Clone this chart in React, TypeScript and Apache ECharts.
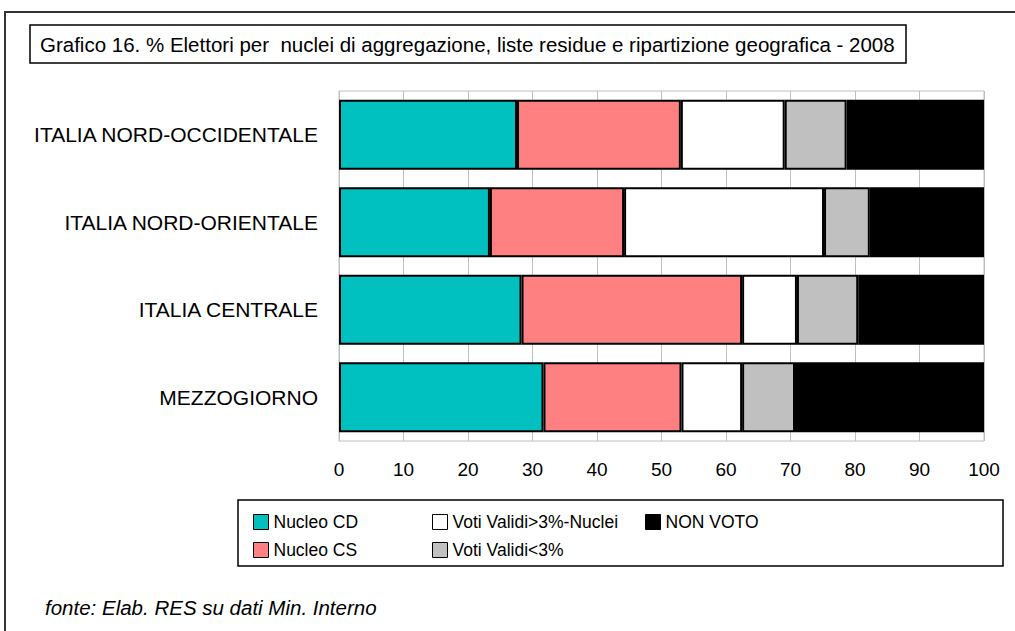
import React, { useEffect, useRef } from "react";
import * as echarts from "echarts";

const categories = [
  "ITALIA NORD-OCCIDENTALE",
  "ITALIA NORD-ORIENTALE",
  "ITALIA CENTRALE",
  "MEZZOGIORNO",
];
const nucleoCD = [27.6, 23.4, 28.3, 31.7];
const nucleoCS = [25.4, 20.8, 34.2, 21.4];
const votiSopra3 = [16.1, 31.0, 8.5, 9.4];
const votiSotto3 = [9.6, 7.1, 9.5, 8.2];
const nonVoto = [21.3, 17.7, 19.5, 29.3];
const xTicks = [0, 10, 20, 30, 40, 50, 60, 70, 80, 90, 100];

const title =
  "Grafico 16. % Elettori per  nuclei di aggregazione, liste residue e ripartizione geografica - 2008";
const source = "fonte: Elab. RES su dati Min. Interno";

const FONT = "'Liberation Sans', Arial, sans-serif";

export default function App() {
  const ref = useRef<HTMLDivElement>(null);
  useEffect(() => {
    if (!ref.current) return;
    const chart = echarts.init(ref.current, null, { renderer: "svg" });
    const seriesDefs = [
      { name: "Nucleo CD", data: nucleoCD, color: "#00C0C0" },
      { name: "Nucleo CS", data: nucleoCS, color: "#FF8080" },
      { name: "Voti Validi>3%-Nuclei", data: votiSopra3, color: "#FFFFFF" },
      { name: "Voti Validi<3%", data: votiSotto3, color: "#C0C0C0" },
      { name: "NON VOTO", data: nonVoto, color: "#000000" },
    ];
    const legendCommon = {
      orient: "vertical" as const,
      top: 508,
      padding: 5,
      itemWidth: 15,
      itemHeight: 15,
      itemGap: 10,
      icon: "rect",
      textStyle: { fontFamily: FONT, fontSize: 17.5, color: "#000" },
      itemStyle: { borderColor: "#000", borderWidth: 1 },
      selectedMode: false,
    };
    chart.setOption({
      animation: false,
      backgroundColor: "#fff",
      grid: {
        left: 339,
        right: 31,
        top: 91,
        bottom: 190,
        show: true,
        borderColor: "#c0c0c0",
        borderWidth: 1,
      },
      xAxis: {
        type: "value",
        min: 0,
        max: 100,
        interval: 10,
        axisLine: { show: false },
        axisTick: { show: false },
        splitLine: { show: true, lineStyle: { color: "#c0c0c0", width: 1 } },
        axisLabel: {
          fontFamily: FONT,
          fontSize: 19,
          color: "#000",
          margin: 19,
          formatter: (v: number) => (xTicks.includes(v) ? String(v) : ""),
        },
      },
      yAxis: {
        type: "category",
        data: categories,
        inverse: true,
        axisLine: { show: false },
        axisTick: { show: false },
        axisLabel: {
          fontFamily: FONT,
          fontSize: 21,
          color: "#000",
          margin: 21,
        },
      },
      legend: [
        { ...legendCommon, left: 248, data: ["Nucleo CD", "Nucleo CS"] },
        {
          ...legendCommon,
          left: 427,
          data: ["Voti Validi>3%-Nuclei", "Voti Validi<3%"],
        },
        { ...legendCommon, left: 640, data: ["NON VOTO"] },
      ],
      series: seriesDefs.map((s) => ({
        name: s.name,
        type: "bar",
        stack: "tot",
        data: s.data,
        barWidth: "80%",
        itemStyle: { color: s.color, borderColor: "#000", borderWidth: 2 },
      })),
      graphic: [
        {
          type: "rect",
          shape: { x: 5, y: 12, width: 1030, height: 640 },
          style: { fill: "none", stroke: "#333", lineWidth: 2 },
          silent: true,
          z: -1,
        },
        {
          type: "rect",
          shape: { x: 30, y: 25, width: 876, height: 38 },
          style: { fill: "#fff", stroke: "#000", lineWidth: 1.5 },
          silent: true,
        },
        {
          type: "text",
          x: 40,
          y: 44,
          style: {
            text: title,
            fontFamily: FONT,
            fontSize: 20.5,
            fill: "#000",
            verticalAlign: "middle",
          },
          silent: true,
        },
        {
          type: "rect",
          shape: { x: 238, y: 500, width: 765, height: 66 },
          style: { fill: "none", stroke: "#000", lineWidth: 1.5 },
          silent: true,
        },
        {
          type: "text",
          x: 45,
          y: 607,
          style: {
            text: source,
            fontFamily: FONT,
            fontSize: 20.5,
            fontStyle: "italic",
            fill: "#000",
            verticalAlign: "middle",
          },
          silent: true,
        },
      ],
    });
    return () => chart.dispose();
  }, []);
  return (
    <div
      ref={ref}
      style={{ position: "fixed", left: 0, top: 0, width: 1015, height: 631 }}
    />
  );
}
